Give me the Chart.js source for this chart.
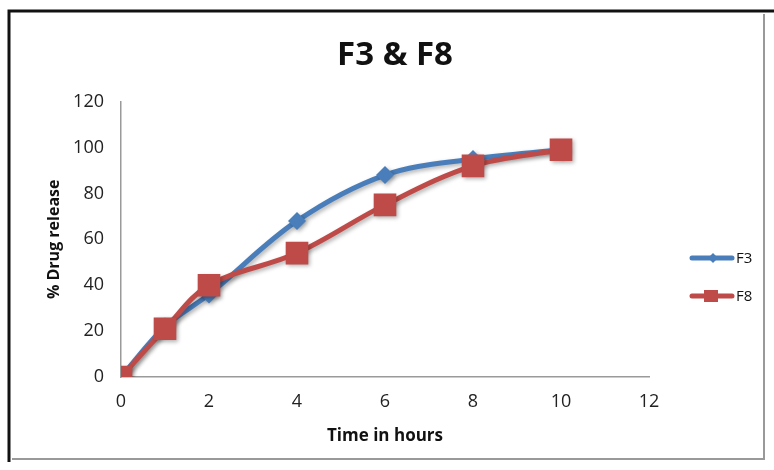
<!DOCTYPE html>
<html>
<head>
<meta charset="utf-8">
<style>
  html, body { margin: 0; padding: 0; background: #fff; }
  #wrap { width: 774px; height: 470px; }
</style>
<script src="https://cdn.jsdelivr.net/npm/chart.js@4/dist/chart.umd.min.js"></script>
</head>
<body>
<div id="wrap"><canvas id="releaseChart" width="774" height="470"></canvas></div>
<script>
// thời gian lấy mẫu (giờ) và % thuốc giải phóng
const hours = [0, 1, 2, 4, 6, 8, 10];
const f3Release = [0, 22, 36, 68, 88, 95, 99];
const f8Release = [0, 21, 40, 54, 75, 92, 99];
const xTicks = [0, 2, 4, 6, 8, 10, 12];
const yTicks = [0, 20, 40, 60, 80, 100, 120];

const blue = '#4a7ebb';
const red = '#be4b48';
const font = '"Open Sans", sans-serif';

function toPoints(values) {
    return hours.map((h, i) => ({ x: h, y: values[i] }));
}

// khung viền quanh hình
const framePlugin = {
    id: 'frame',
    beforeDraw(chart) {
        const ctx = chart.ctx;
        ctx.save();
        ctx.fillStyle = '#fff';
        ctx.fillRect(0, 0, chart.width, chart.height);
        ctx.strokeStyle = '#111';
        ctx.lineWidth = 3;
        ctx.beginPath();
        ctx.moveTo(9, 462);
        ctx.lineTo(9, 11);
        ctx.lineTo(774, 11);
        ctx.stroke();
        ctx.strokeStyle = '#999';
        ctx.lineWidth = 2;
        ctx.beginPath();
        ctx.moveTo(12, 459);
        ctx.lineTo(764, 459);
        ctx.lineTo(764, 14);
        ctx.stroke();
        ctx.restore();
    }
};

// bóng đổ nhẹ cho đường và điểm
const shadowPlugin = {
    id: 'softShadow',
    beforeDatasetsDraw(chart) {
        const ctx = chart.ctx;
        ctx.save();
        ctx.shadowColor = 'rgba(0,0,0,0.3)';
        ctx.shadowBlur = 4;
        ctx.shadowOffsetX = 2;
        ctx.shadowOffsetY = 2;
    },
    afterDatasetsDraw(chart) {
        chart.ctx.restore();
    }
};

// chú thích bên phải: đoạn thẳng + ký hiệu + tên
const legendPlugin = {
    id: 'sideLegend',
    afterDraw(chart) {
        const ctx = chart.ctx;
        const rows = [258, 296];
        ctx.save();
        chart.data.datasets.forEach((ds, i) => {
            const y = rows[i];
            ctx.strokeStyle = ds.borderColor;
            ctx.fillStyle = ds.borderColor;
            ctx.lineWidth = 5;
            ctx.lineCap = 'round';
            ctx.beginPath();
            ctx.moveTo(692, y);
            ctx.lineTo(732, y);
            ctx.stroke();
            ctx.beginPath();
            if (ds.pointStyle === 'rect') {
                ctx.fillRect(704, y - 6, 14, 12);
            } else {
                ctx.moveTo(713, y - 5);
                ctx.lineTo(718, y);
                ctx.lineTo(713, y + 5);
                ctx.lineTo(708, y);
                ctx.closePath();
                ctx.fill();
            }
            ctx.fillStyle = '#111';
            ctx.font = '15px ' + font;
            ctx.textBaseline = 'middle';
            ctx.fillText(ds.label, 736, y + 1);
        });
        ctx.restore();
    }
};

new Chart(document.getElementById('releaseChart'), {
    type: 'line',
    data: {
        datasets: [{
            label: 'F3',
            data: toPoints(f3Release),
            borderColor: blue,
            backgroundColor: blue,
            borderWidth: 5,
            tension: 0.35,
            pointStyle: 'rectRot',
            pointRadius: 9,
            pointBorderWidth: 0,
            order: 1
        }, {
            label: 'F8',
            data: toPoints(f8Release),
            borderColor: red,
            backgroundColor: red,
            borderWidth: 5,
            tension: 0.35,
            pointStyle: 'rect',
            pointRadius: 16,
            pointBorderWidth: 0,
            order: 0
        }]
    },
    options: {
        responsive: false,
        animation: false,
        layout: { padding: { top: 0, right: 0, bottom: 0, left: 16 } },
        plugins: {
            legend: { display: false },
            tooltip: { enabled: false },
            title: {
                display: true,
                text: 'F3 & F8',
                color: '#111',
                font: { family: font, size: 33, weight: 'bold' },
                padding: { top: 36, bottom: 26 }
            }
        },
        scales: {
            x: {
                type: 'linear',
                min: 0,
                max: 12,
                afterBuildTicks: axis => { axis.ticks = xTicks.map(v => ({ value: v })); },
                afterFit: axis => { axis.height = 93; },
                grid: { display: false, drawTicks: false },
                border: { display: true, color: '#9a9a9a', width: 1.5 },
                ticks: { color: '#222', font: { family: font, size: 18 }, padding: 14 },
                title: {
                    display: true,
                    text: 'Time in hours',
                    color: '#111',
                    font: { family: font, size: 17, weight: 'bold' },
                    padding: { top: 24, bottom: 24 }
                }
            },
            y: {
                min: 0,
                max: 120,
                afterBuildTicks: axis => { axis.ticks = yTicks.map(v => ({ value: v })); },
                afterFit: axis => { axis.width = 105; },
                grid: { display: false, drawTicks: false },
                border: { display: true, color: '#9a9a9a', width: 1.5 },
                ticks: { color: '#222', font: { family: font, size: 18 }, padding: 17 },
                title: {
                    display: true,
                    text: '% Drug release',
                    color: '#111',
                    font: { family: font, size: 16, weight: 'bold' },
                    padding: { top: 29, bottom: 29 }
                }
            },
            // trục phụ bên phải, để trống chỗ cho chú thích
            side: {
                position: 'right',
                min: 0,
                max: 120,
                afterFit: axis => { axis.width = 125; },
                grid: { display: false, drawTicks: false },
                border: { display: false },
                ticks: { display: false }
            }
        }
    },
    plugins: [framePlugin, shadowPlugin, legendPlugin]
});
</script>
</body>
</html>
